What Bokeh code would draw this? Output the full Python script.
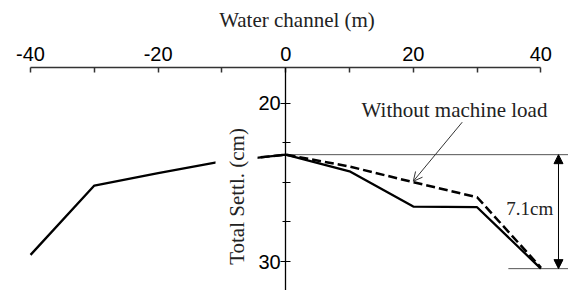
import math
from bokeh.plotting import figure
from bokeh.models import (LinearAxis, FixedTicker, Range1d, Label, Arrow,
                          OpenHead, NormalHead)
from bokeh.embed import file_html
from bokeh.resources import INLINE

# ---- data ----
dist_with = [-40, -30, -20, -10, 0, 10, 20, 30, 40]
settl_with = [29.58, 25.2, 24.42, 23.68, 23.25, 24.3, 26.53, 26.57, 30.45]

dist_without = [-10, 0, 10, 20, 30, 40]
settl_without = [23.68, 23.25, 24.0, 24.99, 25.94, 30.38]

x_major_ticks = [-40, -20, 0, 20, 40]
x_minor_ticks = [-30, -10, 10, 30]
y_major_ticks = [20, 30]
y_minor_ticks = [22.5, 25, 27.5]

x_title = "Water channel (m)"
y_title = "Total Settl. (cm)"
diff_label = "7.1cm"

SERIF = "Liberation Serif"
SANS = "Liberation Sans"

p = figure(width=568, height=290, output_backend="svg", toolbar_location=None,
           x_axis_type=None, y_axis_type=None,
           x_range=Range1d(-44.71, 44.33), y_range=Range1d(31.83, 17.745),
           min_border_left=0, min_border_right=0, min_border_bottom=0,
           min_border_top=67)
p.outline_line_color = None
p.grid.visible = False

# top x axis
xax = LinearAxis(ticker=FixedTicker(ticks=x_major_ticks, minor_ticks=x_minor_ticks),
                 bounds=(-40, 40))
xax.major_label_overrides = {t: str(t) for t in x_major_ticks}
xax.axis_line_color = "#333333"
xax.axis_line_width = 1.5
xax.major_tick_line_color = "#333333"
xax.minor_tick_line_color = "#333333"
xax.major_tick_line_width = 1.5
xax.minor_tick_line_width = 1.5
xax.major_tick_in = 5
xax.major_tick_out = 0
xax.minor_tick_in = 5
xax.minor_tick_out = 0
xax.major_label_standoff = 7
xax.major_label_text_font = SANS
xax.major_label_text_font_size = "20px"
xax.major_label_text_color = "black"
p.add_layout(xax, "above")

# x axis title, set slightly right of the centre as in the original
title_pos = 1.77
tax = LinearAxis(ticker=FixedTicker(ticks=[title_pos]),
                 major_label_overrides={title_pos: x_title})
tax.axis_line_color = None
tax.major_tick_line_color = None
tax.minor_tick_line_color = None
tax.major_tick_out = 0
tax.major_tick_in = 0
tax.major_label_standoff = 12
tax.major_label_text_font = SERIF
tax.major_label_text_font_size = "21px"
tax.major_label_text_color = "#222222"
p.add_layout(tax, "above")

# y axis crossing at x = 0
yax = LinearAxis(ticker=FixedTicker(ticks=y_major_ticks, minor_ticks=y_minor_ticks),
                 fixed_location=0)
yax.axis_line_color = "black"
yax.axis_line_width = 1.3
yax.major_tick_line_color = "black"
yax.minor_tick_line_color = "black"
yax.major_tick_in = 5
yax.major_tick_out = 5
yax.minor_tick_in = 5
yax.minor_tick_out = 3
yax.major_label_standoff = 0
yax.major_label_text_font = SANS
yax.major_label_text_font_size = "20px"
yax.major_label_text_color = "black"
p.add_layout(yax, "left")

# reference lines for the 7.1 cm difference
top_val = settl_with[4]
bot_val = settl_with[-1]
p.segment(x0=[0], y0=[top_val], x1=[44.33], y1=[top_val], line_color="#555555", line_width=1)
p.segment(x0=[34.9], y0=[bot_val], x1=[44.33], y1=[bot_val], line_color="#555555", line_width=1)

# series
p.line(dist_with, settl_with, line_color="black", line_width=2.3)
p.line(dist_without, settl_without, line_color="black", line_width=2.5, line_dash="9 4")

# y axis title with white background (covers the line)
p.add_layout(Label(x=-7.71, y=25.89, text=y_title, angle=math.pi / 2,
                   text_align="center", text_baseline="middle",
                   text_font=SERIF, text_font_size="21px", text_color="#222222",
                   background_fill_color="white", padding=9))

# annotation: without machine load
p.add_layout(Label(x=11.9, y=20.45, text="Without machine load",
                   text_align="left", text_baseline="alphabetic",
                   text_font=SERIF, text_font_size="21px", text_color="#222222"))
p.add_layout(Arrow(x_start=27.67, y_start=21.2, x_end=dist_without[3], y_end=settl_without[3] - 0.06,
                   line_color="#333333", line_width=1,
                   end=OpenHead(size=9, line_color="#333333", line_width=1)))

# double arrow with 7.1cm
p.add_layout(Arrow(x_start=42.76, y_start=top_val, x_end=42.76, y_end=bot_val,
                   line_color="black", line_width=1,
                   start=NormalHead(size=9, fill_color="black", line_color="black"),
                   end=NormalHead(size=9, fill_color="black", line_color="black")))
p.add_layout(Label(x=34.57, y=26.65, text=diff_label,
                   text_align="left", text_baseline="alphabetic",
                   text_font=SERIF, text_font_size="19px", text_color="#222222"))

open("out.html", "w").write(file_html(p, INLINE))
